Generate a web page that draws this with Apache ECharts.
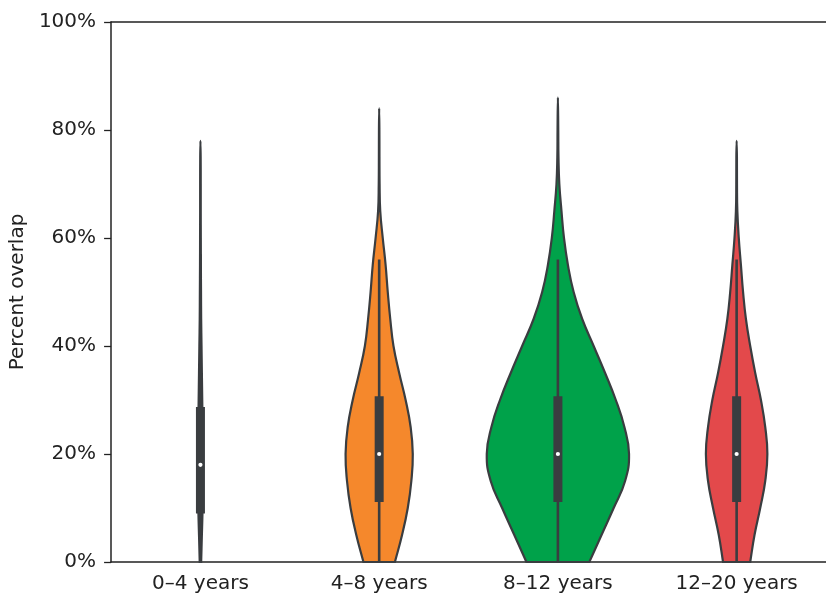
<!DOCTYPE html>
<html>
<head>
<meta charset="utf-8">
<script src="https://cdn.jsdelivr.net/npm/echarts@6/dist/echarts.min.js"></script>
<style>
  html, body { margin: 0; padding: 0; background: #fff; }
  #chart { width: 826px; height: 594px; }
</style>
</head>
<body>
<div id="chart"></div>
<script>
// ---- data ----
const categories = ['0–4 years', '4–8 years', '8–12 years', '12–20 years'];
const yTicks = [0, 20, 40, 60, 80, 100];

// percent levels at which the violin width (relative density) was read
const densityLevels = [0, 5, 10, 15, 20, 25, 30, 35, 40, 45, 50, 55, 60, 65, 70, 75, 80];

// relative half-width (1 = widest violin) at each level, up to the violin's max
const density0to4 = [0.01, 0.02, 0.03, 0.035, 0.035, 0.03, 0.025, 0.02, 0.015, 0.01, 0.008, 0.006, 0.005, 0.004, 0.004, 0.003];
const density4to8 = [0.22, 0.32, 0.40, 0.45, 0.47, 0.44, 0.37, 0.28, 0.20, 0.155, 0.12, 0.09, 0.05, 0.015, 0.006, 0.004, 0.003];
const density8to12 = [0.44, 0.61, 0.78, 0.94, 0.995, 0.93, 0.81, 0.66, 0.50, 0.34, 0.22, 0.14, 0.085, 0.05, 0.02, 0.008, 0.005];
const density12to20 = [0.19, 0.25, 0.33, 0.40, 0.43, 0.40, 0.34, 0.26, 0.19, 0.13, 0.09, 0.06, 0.03, 0.01, 0.005, 0.004];

// maximum observed value (tip of each violin)
const maxValues = [78, 84, 86, 78];
// inner box statistics
const q1Values = [9.0, 11.1, 11.1, 11.1];
const medianValues = [18, 20, 20, 20];
const q3Values = [28.7, 30.7, 30.7, 30.7];
const whiskerLow = [0, 0, 0, 0];
const whiskerHigh = [57, 56, 56, 56];

const densities = [density0to4, density4to8, density8to12, density12to20];
const fillColors = ['#3a3d40', '#F5882C', '#00A24A', '#E3494B'];

const FONT = 'DejaVu Sans';
const INK = '#3a3d40';

function renderItem(params, api) {
  const i = api.value(0);
  const cx = api.coord([i, 0])[0];
  const band = api.size([1, 0])[0];
  const scale = band * 0.4;
  const d = densities[i];
  const yOf = v => api.coord([i, v])[1];

  const left = [], right = [];
  for (let k = 0; k < d.length; k++) {
    const y = yOf(densityLevels[k]);
    left.push([cx - d[k] * scale, y]);
    right.push([cx + d[k] * scale, y]);
  }
  const tip = [cx, yOf(maxValues[i])];
  // duplicate bottom corners to keep them sharp under smoothing
  const pts = [left[0]].concat(left, [tip], right.slice().reverse(), [right[0]]);

  const boxW = 9;
  const yq1 = yOf(q1Values[i]), yq3 = yOf(q3Values[i]);
  return {
    type: 'group',
    children: [
      {
        type: 'polygon',
        shape: { points: pts, smooth: 0.45 },
        style: { fill: fillColors[i], stroke: INK, lineWidth: 2.2 }
      },
      {
        type: 'line',
        shape: { x1: cx, y1: yOf(whiskerLow[i]), x2: cx, y2: yOf(whiskerHigh[i]) },
        style: { stroke: INK, lineWidth: 2.6 }
      },
      {
        type: 'rect',
        shape: { x: cx - boxW / 2, y: yq3, width: boxW, height: yq1 - yq3 },
        style: { fill: INK }
      },
      {
        type: 'circle',
        shape: { cx: cx, cy: yOf(medianValues[i]), r: 2.1 },
        style: { fill: '#ffffff' }
      }
    ]
  };
}

const chart = echarts.init(document.getElementById('chart'), null, { renderer: 'canvas' });
chart.setOption({
  animation: false,
  backgroundColor: '#ffffff',
  grid: { left: 110, top: 22, width: 721, height: 540, show: false },
  xAxis: [{
    type: 'category',
    data: categories,
    boundaryGap: true,
    axisLine: { lineStyle: { color: '#222', width: 1.5 } },
    axisTick: { alignWithLabel: true, length: 6, lineStyle: { color: '#222', width: 1.3 } },
    axisLabel: { color: '#222', fontSize: 20, fontFamily: FONT, margin: 12 },
    splitLine: { show: false }
  }, {
    type: 'category',
    position: 'top',
    data: categories,
    axisLine: { lineStyle: { color: '#222', width: 1.5 } },
    axisTick: { show: false },
    axisLabel: { show: false },
    splitLine: { show: false }
  }],
  yAxis: {
    type: 'value',
    min: yTicks[0], max: yTicks[yTicks.length - 1], interval: 20,
    name: 'Percent overlap',
    nameLocation: 'middle',
    nameGap: 82,
    nameTextStyle: { color: '#222', fontSize: 20, fontFamily: FONT },
    axisLine: { show: true, lineStyle: { color: '#222', width: 1.5 } },
    axisTick: { show: true, length: 7, lineStyle: { color: '#222', width: 1.3 } },
    axisLabel: { color: '#222', fontSize: 20, fontFamily: FONT, margin: 15, formatter: '{value}%' },
    splitLine: { show: false }
  },
  series: [{
    type: 'custom',
    renderItem: renderItem,
    encode: { x: 0, y: 1 },
    data: categories.map((c, i) => [i, 0]),
    z: 3
  }]
});
</script>
</body>
</html>
